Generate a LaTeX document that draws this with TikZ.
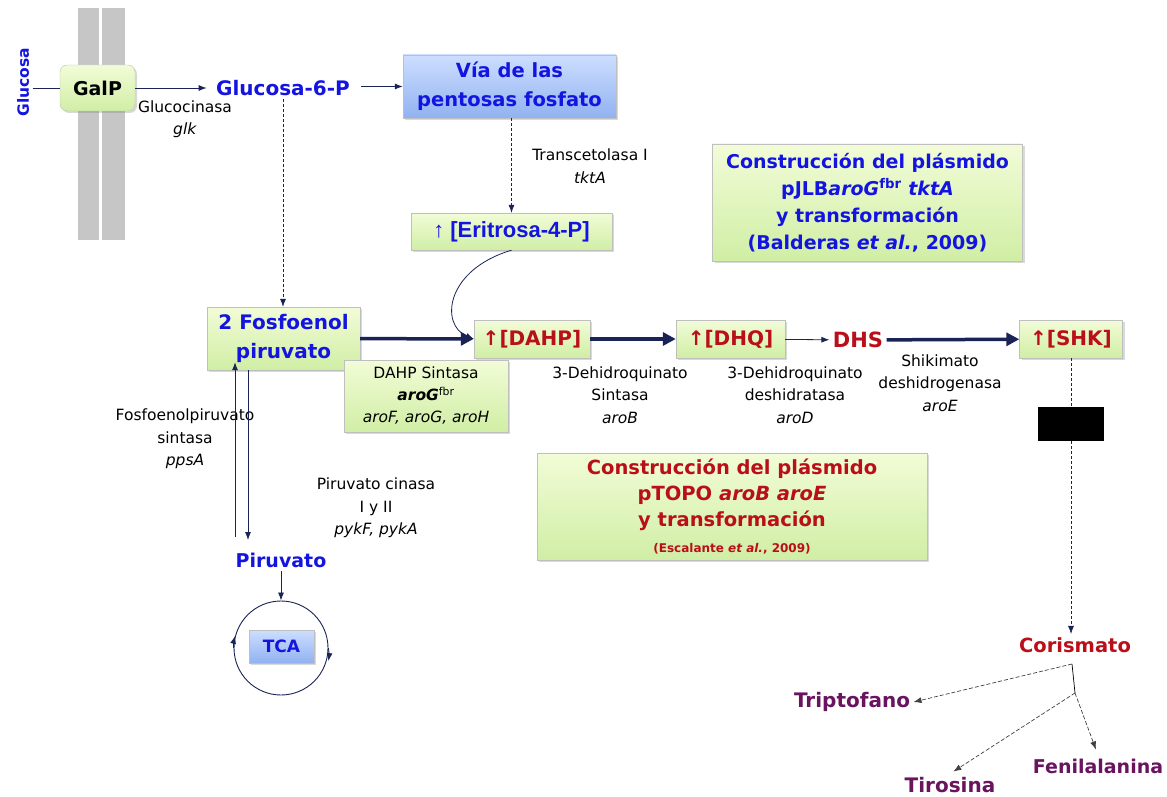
\documentclass[tikz,border=0pt]{standalone}
\usepackage{fontspec}
\setmainfont{DejaVu Sans}
\newfontfamily\arial{Liberation Sans}
\usetikzlibrary{arrows.meta,shadows}

\definecolor{azul}{RGB}{20,20,225}
\definecolor{rojo}{RGB}{185,15,25}
\definecolor{morado}{RGB}{105,20,95}
\definecolor{marino}{RGB}{25,35,85}
\definecolor{verdeA}{RGB}{242,252,215}
\definecolor{verdeB}{RGB}{208,238,165}
\definecolor{azulA}{RGB}{205,222,255}
\definecolor{azulB}{RGB}{145,178,240}

\begin{document}
\begin{tikzpicture}[x=1pt,y=-1pt,
  caja/.style={draw=black!25, top color=verdeA, bottom color=verdeB, align=center,
    drop shadow={opacity=.3,shadow xshift=2pt,shadow yshift=-2pt}},
  cajaazul/.style={caja, top color=azulA, bottom color=azulB},
  txt/.style={font=\fontsize{15.5}{22.5}\selectfont, align=center, inner sep=0pt},
  met/.style={font=\fontsize{20}{28}\selectfont\bfseries, text=azul},
  metroja/.style={met, text=rojo},
  aa/.style={met, text=morado},
  flecha/.style={draw=marino, line width=.8pt, -{Latex[length=8pt,width=6pt]}},
  gruesa/.style={draw=marino, line width=3.5pt, -{Triangle[length=13pt,width=13pt]}},
  punteada/.style={flecha, dash pattern=on 3pt off 2pt, line width=.6pt},
  ramal/.style={draw=black!75, line width=.7pt, dash pattern=on 4pt off 2pt, -{Latex[length=8pt,width=6pt]}}]

\useasboundingbox (0,0) rectangle (1167,797);

% membrana
\fill[gray!45] (78,8) rectangle (99,240);
\fill[gray!45] (102,8) rectangle (125,240);

\node (glc) at (23,82) [met, rotate=90, font=\fontsize{15.5}{16}\selectfont\bfseries] {Glucosa};
\node (galp) at (97.5,88) [caja, rounded corners=7pt, minimum width=75, minimum height=46, font=\fontsize{19}{20}\selectfont\bfseries] {GalP};
\node (g6p) at (283,88) [met] {Glucosa-6-P};
\node (glk) at (185,119) [txt] {Glucocinasa\\\textit{glk}};
\node (pp) at (509.5,86.5) [cajaazul, minimum width=213, minimum height=63, text=azul, font=\fontsize{19.5}{29}\selectfont\bfseries] {Vía de las\\pentosas fosfato};
\node (tkt) at (590,166) [txt] {Transcetolasa I\\\textit{tktA}};
\node (eri) at (511.5,231.5) [caja, minimum width=201, minimum height=37, text=azul, font=\arial\fontsize{22}{24}\selectfont\bfseries] {↑ [Eritrosa-4-P]};

\node (bal) at (867.5,202.5) [caja, minimum width=310, minimum height=117, text=azul, font=\fontsize{19}{27}\selectfont\bfseries] {Construcción del plásmido\\pJLB\textit{aroG}\textsuperscript{fbr} \textit{tktA}\\y transformación\\(Balderas \textit{et al.}, 2009)};

\node (pep) at (283.5,338.5) [caja, minimum width=153, minimum height=63, text=azul, font=\fontsize{20}{29}\selectfont\bfseries] {2 Fosfoenol\\piruvato};
\node (dahp) at (532,339) [caja, minimum width=116, minimum height=38, text=rojo, font=\fontsize{20}{22}\selectfont\bfseries] {↑[DAHP]};
\node (sint) at (426,396) [caja, minimum width=164, minimum height=72, font=\fontsize{15.5}{22}\selectfont] {DAHP Sintasa\\\textbf{\textit{aroG}}\textsuperscript{fbr}\\\textit{aroF, aroG, aroH}};
\node (dhq) at (730.5,339) [caja, minimum width=109, minimum height=38, text=rojo, font=\fontsize{20}{22}\selectfont\bfseries] {↑[DHQ]};
\node (dhs) at (858,340) [metroja, font=\fontsize{21}{22}\selectfont\bfseries] {DHS};
\node (shk) at (1071,339) [caja, minimum width=103, minimum height=38, text=rojo, font=\fontsize{20}{22}\selectfont\bfseries] {↑[SHK]};

\node (aroB) at (620,395) [txt] {3-Dehidroquinato\\Sintasa\\\textit{aroB}};
\node (aroD) at (795,395) [txt] {3-Dehidroquinato\\deshidratasa\\\textit{aroD}};
\node (aroE) at (940,383) [txt] {Shikimato\\deshidrogenasa\\\textit{aroE}};

\node (neg) at (1071,424) [fill=black, minimum width=66, minimum height=34] {};

\node (esc) at (732,506.5) [caja, minimum width=390, minimum height=107, text=rojo, font=\fontsize{19.5}{26}\selectfont\bfseries] {Construcción del plásmido\\pTOPO \textit{aroB aroE}\\y transformación\\{\fontsize{12}{14}\selectfont(Escalante \textit{et al.}, 2009)}};

\node (pps) at (185,439) [txt] {Fosfoenolpiruvato\\sintasa\\\textit{ppsA}};
\node (pyk) at (376,508) [txt] {Piruvato cinasa\\I y II\\\textit{pykF, pykA}};
\node (pir) at (281,560) [met, font=\fontsize{19}{22}\selectfont\bfseries] {Piruvato};
\node (krebs) at (281,648) [circle, draw=marino, line width=.9pt, minimum size=94] {};
\node (tca) at (281.5,646.5) [cajaazul, minimum width=65, minimum height=33, text=azul, font=\fontsize{17}{18}\selectfont\bfseries] {TCA};

\node (cor) at (1075,645) [metroja, font=\fontsize{19.5}{22}\selectfont\bfseries] {Corismato};
\node (trp) at (852,702) [aa] {Triptofano};
\node (tyr) at (950,785) [aa] {Tirosina};
\node (phe) at (1098,766) [aa, font=\fontsize{19}{22}\selectfont\bfseries] {Fenilalanina};

\draw[marino, line width=.8pt] (glc.south |- galp.west) -- (galp.west);
\draw[flecha, shorten >=6pt] (galp.east) -- (galp.east -| g6p.west);
\draw[flecha, shorten <=8pt] (g6p.east |- pp.west) -- (pp.west);
\draw[punteada] (g6p.south) -- (g6p.south |- pep.north);
\draw[punteada] (eri.north |- pp.south) -- (eri.north);
\draw[flecha] (eri.south) .. controls (445,270) and (440,325) .. (dahp.west);
\draw[gruesa] (pep) -- (dahp);
\draw[gruesa] (dahp) -- (dhq);
\draw[flecha] (dhq) -- (dhs);
\draw[gruesa] (dhs) -- (shk);
\draw[punteada, -] (shk) -- (neg);
\draw[punteada] (neg.south) -- (neg.south |- cor.north);

\coordinate (ppsB) at (235,537);
\coordinate (pykB) at (248,540);
\draw[flecha, shorten >=-8pt] (ppsB) -- (ppsB |- pep.south);
\draw[flecha] (pykB |- pep.south) -- (pykB);
\draw[flecha] (pir) -- (krebs.north);
\draw[marino, line width=.9pt, -{Latex[length=8pt,width=6pt]}] (krebs.west) arc[start angle=180, end angle=195, radius=47];
\draw[marino, line width=.9pt, -{Latex[length=8pt,width=6pt]}] (krebs.east) arc[start angle=-8, end angle=8, radius=47];

\coordinate (rA) at (1072,664);
\coordinate (rB) at (1075,693);
\draw[black, line width=.7pt] (rA) -- (rB);
\draw[ramal] (rA) -- (trp.east);
\draw[ramal, shorten >=4pt] (rB) -- (tyr.north);
\draw[ramal, shorten >=6pt] (rB) -- (phe.north);
\end{tikzpicture}
\end{document}
